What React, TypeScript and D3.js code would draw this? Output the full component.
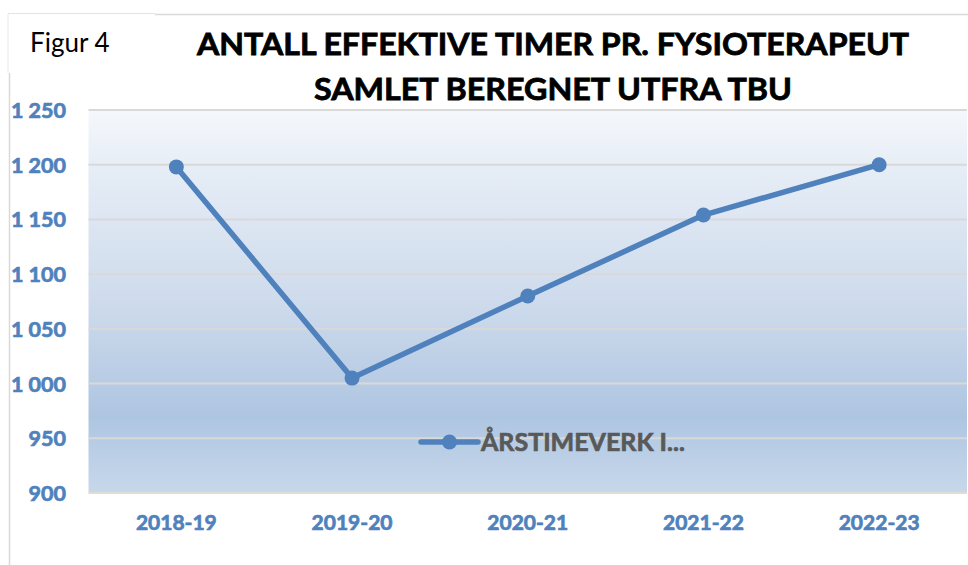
import React from "react";
import * as d3 from "d3";

const seasons = ["2018-19", "2019-20", "2020-21", "2021-22", "2022-23"];
const hours = [1198, 1005, 1080, 1154, 1200];
const yTicks = [900, 950, 1000, 1050, 1100, 1150, 1200, 1250];
const titleLines = ["ANTALL EFFEKTIVE TIMER PR. FYSIOTERAPEUT", "SAMLET BEREGNET UTFRA TBU"];
const seriesName = "ÅRSTIMEVERK I...";

const W = 968;
const H = 565;
const plot = { left: 88.5, right: 967, top: 110, bottom: 493 };
const blue = "#4f81bd";
const font = "Lato, 'Open Sans', sans-serif";

const nb = d3.formatLocale({ decimal: ",", thousands: " ", grouping: [3], currency: ["", " kr"] });
const fmt = nb.format(",d");

const App = () => {
  const x = d3.scalePoint<string>().domain(seasons).range([plot.left, plot.right]).padding(0.5);
  const y = d3.scaleLinear().domain([900, 1250]).range([plot.bottom, plot.top]);

  const line = d3.line<number>()
    .x((d, i) => x(seasons[i]) as number)
    .y((d) => y(d));

  // bolder look, closer to the heavy office font
  const heavy = (c: string, w = 0.7) => ({ stroke: c, strokeWidth: w, paintOrder: "stroke" as const });

  return (
    <svg width={W} height={H} style={{ position: "absolute", left: 0, top: 0 }}>
      <defs>
        <linearGradient id="plotFill" x1="0" y1="0" x2="0" y2="1">
          <stop offset="0" stopColor="#f5f8fb" />
          <stop offset="0.15" stopColor="#e6edf6" />
          <stop offset="0.5" stopColor="#cedbec" />
          <stop offset="0.8" stopColor="#aec5e1" />
          <stop offset="1" stopColor="#c8d8eb" />
        </linearGradient>
      </defs>
      <rect x={0} y={0} width={W} height={H} fill="#fff" />
      {/* chart frame */}
      <line x1={9.5} x2={9.5} y1={14} y2={H} stroke="#d9d9d9" strokeWidth={1.5} />
      <line x1={155} x2={W} y1={14.5} y2={14.5} stroke="#d9d9d9" strokeWidth={1.5} />
      {/* figure caption box */}
      <rect x={8} y={14} width={147} height={59} fill="#fff" />
      <line x1={8} x2={155} y1={13.5} y2={13.5} stroke="#e3e3e3" strokeWidth={1} />
      <line x1={8} x2={8} y1={13.5} y2={73} stroke="#e8e8e8" strokeWidth={1} />
      <text x={30} y={52} fontFamily={font} fontSize={26} fill="#000">Figur 4</text>

      {titleLines.map((t, i) => (
        <text key={t} x={553} y={54.5 + i * 45} textAnchor="middle" fontFamily={font} fontWeight="bold"
          fontSize={31} fill="#000" textLength={i === 0 ? 712 : 478} lengthAdjust="spacingAndGlyphs"
          {...heavy("#000", 0.8)}>{t}</text>
      ))}

      <rect x={plot.left} y={plot.top} width={plot.right - plot.left} height={plot.bottom - plot.top} fill="url(#plotFill)" />
      {yTicks.map((t) => (
        <line key={t} x1={plot.left} x2={plot.right} y1={y(t)} y2={y(t)}
          stroke={t === 900 ? "#e2ddd2" : "#d9d9d9"} strokeWidth={2} />
      ))}
      {yTicks.map((t) => (
        <text key={"l" + t} x={66} y={y(t) + 8} textAnchor="end" fontFamily={font} fontWeight="bold"
          fontSize={21.5} fill={blue} {...heavy(blue)}>{fmt(t)}</text>
      ))}
      {seasons.map((s) => (
        <text key={s} x={x(s)} y={530} textAnchor="middle" fontFamily={font} fontWeight="bold"
          fontSize={21} fill={blue} {...heavy(blue)}>{s}</text>
      ))}

      <path d={line(hours) ?? ""} fill="none" stroke={blue} strokeWidth={5.5} strokeLinejoin="round" />
      {hours.map((v, i) => (
        <circle key={i} cx={x(seasons[i])} cy={y(v)} r={7.5} fill={blue} />
      ))}

      {/* legend */}
      <line x1={421} x2={478} y1={442} y2={442} stroke={blue} strokeWidth={5.5} strokeLinecap="round" />
      <circle cx={449.5} cy={442} r={7.5} fill={blue} />
      <text x={481} y={451} fontFamily={font} fontWeight="bold" fontSize={25} fill="#595959"
        {...heavy("#595959")}>{seriesName}</text>
    </svg>
  );
};

export default App;
